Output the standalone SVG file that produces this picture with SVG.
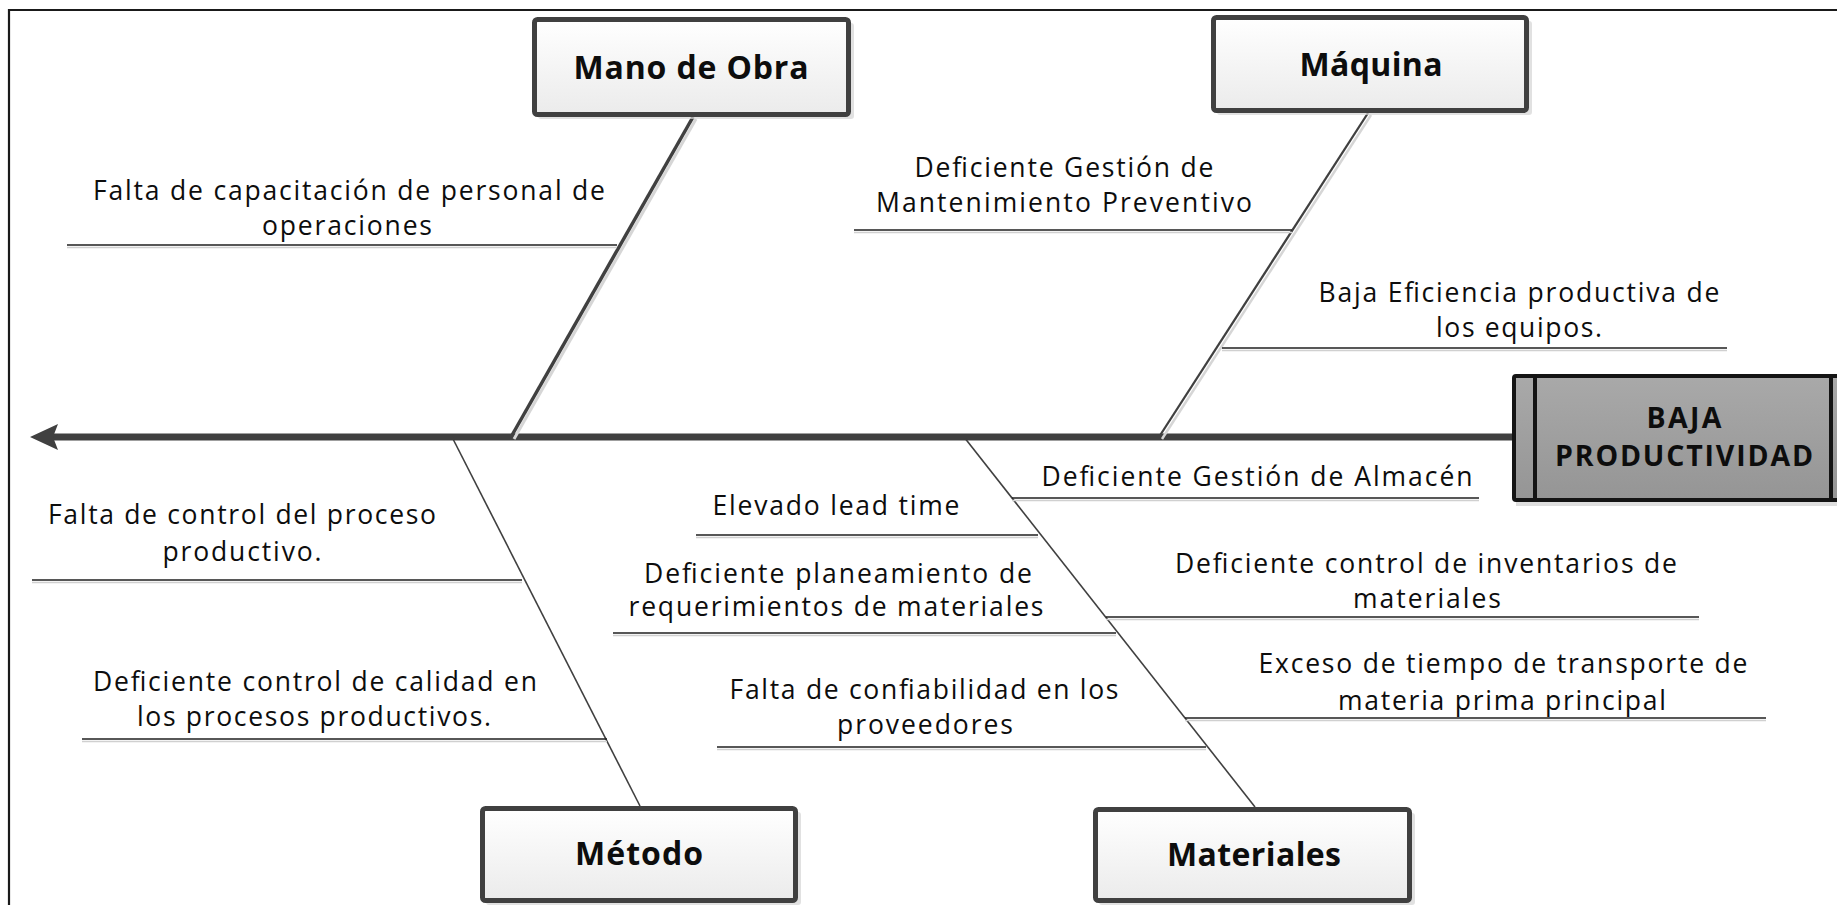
<svg xmlns="http://www.w3.org/2000/svg" width="1837" height="905" viewBox="0 0 1837 905">
<style>
.lbl{font-family:"Open Sans","Liberation Sans",sans-serif;font-size:26.5px;fill:#0d0d0d;text-anchor:middle}
.hdr{font-family:"Open Sans","Liberation Sans",sans-serif;font-size:32px;font-weight:bold;fill:#0d0d0d;text-anchor:middle}
.box{fill:url(#boxg);stroke:#404040;stroke-width:5}
.shd{fill:#d4d4d4;opacity:.7}
.ul{stroke:#1f1f1f;stroke-width:1.5;fill:none}
.uls{stroke:#d0d0d0;stroke-width:1.5;fill:none}
.bone{stroke:#404040;fill:none;stroke-linecap:butt}
</style>
<defs>
<linearGradient id="boxg" x1="0" y1="0" x2="0" y2="1">
<stop offset="0" stop-color="#ffffff"/>
<stop offset="1" stop-color="#ebebeb"/>
</linearGradient>
<linearGradient id="effg" x1="0" y1="0" x2="0" y2="1">
<stop offset="0" stop-color="#a9a9a9"/>
<stop offset="1" stop-color="#959595"/>
</linearGradient>
</defs>
<rect x="0" y="0" width="1837" height="905" fill="#ffffff"/>
<path d="M9,905 V10 H1837" fill="none" stroke="#1a1a1a" stroke-width="2.2"/>

<g id="connectors">
<line class="bone" x1="1514" y1="437" x2="52" y2="437" stroke-width="7"/>
<polygon points="30,437 58,424 53,437 58,450" fill="#404040"/>
<line x1="696" y1="119" x2="514" y2="439" stroke="#d6d6d6" stroke-width="3"/>
<line class="bone" x1="693" y1="117" x2="511" y2="437" stroke-width="3.5"/>
<line x1="1371" y1="115" x2="1162" y2="439" stroke="#d6d6d6" stroke-width="2.5"/>
<line class="bone" x1="1368" y1="113" x2="1159" y2="437" stroke-width="2.3"/>
<line class="bone" x1="452" y1="437" x2="640" y2="806" stroke-width="1.6"/>
<line class="bone" x1="964" y1="437" x2="1255" y2="807" stroke-width="1.6"/>

<line class="uls" x1="67" y1="247.5" x2="617" y2="247.5"/><line class="ul" x1="67" y1="245" x2="617" y2="245"/>
<line class="uls" x1="854" y1="232.5" x2="1292" y2="232.5"/><line class="ul" x1="854" y1="230" x2="1292" y2="230"/>
<line class="uls" x1="1222" y1="350.5" x2="1727" y2="350.5"/><line class="ul" x1="1222" y1="348" x2="1727" y2="348"/>
<line class="uls" x1="32" y1="582.5" x2="522" y2="582.5"/><line class="ul" x1="32" y1="580" x2="522" y2="580"/>
<line class="uls" x1="82" y1="741.5" x2="607" y2="741.5"/><line class="ul" x1="82" y1="739" x2="607" y2="739"/>
<line class="uls" x1="696" y1="537.5" x2="1038" y2="537.5"/><line class="ul" x1="696" y1="535" x2="1038" y2="535"/>
<line class="uls" x1="613" y1="635.5" x2="1116" y2="635.5"/><line class="ul" x1="613" y1="633" x2="1116" y2="633"/>
<line class="uls" x1="717" y1="749.5" x2="1206" y2="749.5"/><line class="ul" x1="717" y1="747" x2="1206" y2="747"/>
<line class="uls" x1="1012" y1="500.5" x2="1479" y2="500.5"/><line class="ul" x1="1012" y1="498" x2="1479" y2="498"/>
<line class="uls" x1="1106" y1="619.5" x2="1699" y2="619.5"/><line class="ul" x1="1106" y1="617" x2="1699" y2="617"/>
<line class="uls" x1="1185" y1="720.5" x2="1766" y2="720.5"/><line class="ul" x1="1185" y1="718" x2="1766" y2="718"/>
</g>

<g id="mano-de-obra">
<rect class="shd" x="538" y="23" width="316" height="96" rx="3"/>
<rect class="box" x="534.5" y="19.5" width="314" height="95" rx="3"/>
<text class="hdr" x="691" y="79" textLength="235">Mano de Obra</text>
</g>
<g id="maquina">
<rect class="shd" x="1217" y="21" width="315" height="94" rx="3"/>
<rect class="box" x="1213.5" y="17.5" width="313" height="93" rx="3"/>
<text class="hdr" x="1371" y="76" textLength="143">Máquina</text>
</g>
<g id="metodo">
<rect class="shd" x="486" y="812" width="315" height="93" rx="3"/>
<rect class="box" x="482.5" y="808.5" width="313" height="92" rx="3"/>
<text class="hdr" x="639" y="865" textLength="128">Método</text>
</g>
<g id="materiales">
<rect class="shd" x="1099" y="813" width="316" height="92" rx="3"/>
<rect class="box" x="1095.5" y="809.5" width="314" height="91" rx="3"/>
<text class="hdr" x="1254" y="866" textLength="174">Materiales</text>
</g>
<g id="baja-productividad">
<rect x="1516" y="380" width="330" height="126" fill="#d0d0d0" opacity=".7"/>
<rect x="1514" y="376" width="340" height="124" fill="url(#effg)" stroke="#141414" stroke-width="4" rx="2"/>
<line x1="1535" y1="376" x2="1535" y2="500" stroke="#141414" stroke-width="4"/>
<line x1="1831" y1="376" x2="1831" y2="500" stroke="#141414" stroke-width="4"/>
<text class="hdr" style="font-size:28.5px" x="1684" y="428" textLength="75">BAJA</text>
<text class="hdr" style="font-size:28.5px" x="1684" y="466" textLength="258">PRODUCTIVIDAD</text>
</g>

<g id="causa-mano">
<text class="lbl" x="349" y="200" textLength="512">Falta de capacitación de personal de</text>
<text class="lbl" x="347" y="235" textLength="170">operaciones</text>
</g>
<g id="causa-maquina-1">
<text class="lbl" x="1064" y="177" textLength="299">Deficiente Gestión de</text>
<text class="lbl" x="1064" y="212" textLength="376">Mantenimiento Preventivo</text>
</g>
<g id="causa-maquina-2">
<text class="lbl" x="1519" y="302" textLength="401">Baja Eficiencia productiva de</text>
<text class="lbl" x="1519" y="337" textLength="166">los equipos.</text>
</g>
<g id="causa-metodo-1">
<text class="lbl" x="242" y="524" textLength="388">Falta de control del proceso</text>
<text class="lbl" x="242" y="561" textLength="159">productivo.</text>
</g>
<g id="causa-metodo-2">
<text class="lbl" x="315" y="691" textLength="444">Deficiente control de calidad en</text>
<text class="lbl" x="314" y="726" textLength="354">los procesos productivos.</text>
</g>
<g id="causa-materiales-1">
<text class="lbl" x="836" y="515" textLength="247">Elevado lead time</text>
</g>
<g id="causa-materiales-2">
<text class="lbl" x="838" y="583" textLength="388">Deficiente planeamiento de</text>
<text class="lbl" x="836" y="616" textLength="415">requerimientos de materiales</text>
</g>
<g id="causa-materiales-3">
<text class="lbl" x="924" y="699" textLength="389">Falta de confiabilidad en los</text>
<text class="lbl" x="925" y="734" textLength="176">proveedores</text>
</g>
<g id="causa-materiales-4">
<text class="lbl" x="1257" y="486" textLength="431">Deficiente Gestión de Almacén</text>
</g>
<g id="causa-materiales-5">
<text class="lbl" x="1426" y="573" textLength="502">Deficiente control de inventarios de</text>
<text class="lbl" x="1427" y="608" textLength="148">materiales</text>
</g>
<g id="causa-materiales-6">
<text class="lbl" x="1503" y="673" textLength="489">Exceso de tiempo de transporte de</text>
<text class="lbl" x="1502" y="710" textLength="328">materia prima principal</text>
</g>
</svg>
